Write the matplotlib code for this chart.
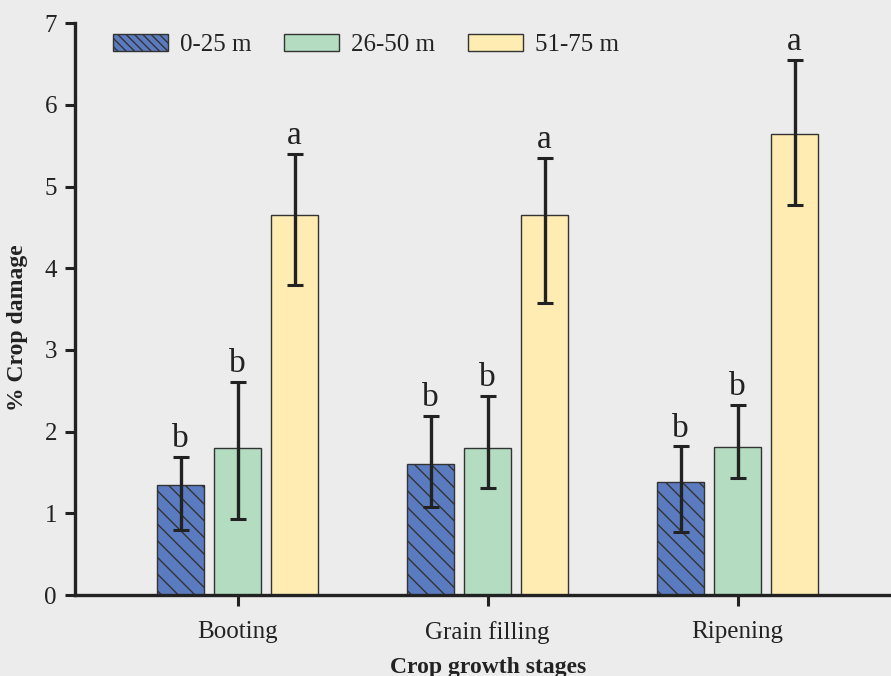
import numpy as np
import matplotlib
matplotlib.use('Agg')
import matplotlib.pyplot as plt
import matplotlib.patches as mpatches

plt.rcParams['font.family'] = ['Liberation Serif', 'DejaVu Serif']
plt.rcParams['hatch.linewidth'] = 1.0

# crop damage (%) by distance band, with lower / upper ends of the error bars
stages = ['Booting', 'Grain filling', 'Ripening']
bands = ['0-25 m', '26-50 m', '51-75 m']
damage_0_25 = [1.35, 1.60, 1.38]
damage_26_50 = [1.80, 1.80, 1.81]
damage_51_75 = [4.65, 4.65, 5.64]
low_0_25 = [0.80, 1.08, 0.77]
low_26_50 = [0.93, 1.31, 1.43]
low_51_75 = [3.79, 3.58, 4.78]
high_0_25 = [1.69, 2.19, 1.82]
high_26_50 = [2.61, 2.44, 2.33]
high_51_75 = [5.40, 5.35, 6.55]
letters_0_25 = ['b', 'b', 'b']
letters_26_50 = ['b', 'b', 'b']
letters_51_75 = ['a', 'a', 'a']

series = [
    (damage_0_25, low_0_25, high_0_25, letters_0_25, '#5b7bc0', '\\\\'),
    (damage_26_50, low_26_50, high_26_50, letters_26_50, '#b3dcc0', ''),
    (damage_51_75, low_51_75, high_51_75, letters_51_75, '#feecb3', ''),
]
legend_hatch = ['\\\\\\\\', '', '']

bg = '#ececec'
fig = plt.figure(figsize=(8.91, 6.76), dpi=100, facecolor=bg)
ax = fig.add_axes([75 / 891, 81 / 676, 816 / 891, 571.7 / 676])
ax.set_facecolor(bg)

x = np.arange(len(stages))
width = 0.19
step = 0.228

handles = []
for i, (vals, lo, hi, lets, color, hatch) in enumerate(series):
    pos = x + (i - 1) * step
    vals = np.array(vals)
    yerr = [vals - np.array(lo), np.array(hi) - vals]
    ax.bar(pos, vals, width, color=color, edgecolor='#333333', linewidth=1.0,
           hatch=hatch, zorder=2)
    ax.errorbar(pos, vals, yerr=yerr, fmt='none', ecolor='#222222',
                elinewidth=2.4, capsize=6, capthick=2.2, zorder=3)
    for px, top, lab in zip(pos, hi, lets):
        ax.annotate(lab, (px, top), xytext=(0, 2), textcoords='offset points',
                    ha='center', va='bottom', fontsize=24, color='#222222')
    handles.append(mpatches.Patch(facecolor=color, edgecolor='#333333',
                                  linewidth=1.0, hatch=legend_hatch[i],
                                  label=bands[i]))

ax.set_xlim(-0.65, 2.614)
ax.set_ylim(0, 7)
ax.set_yticks(range(0, 8))
ax.set_xticks(x)
ax.set_xticklabels(stages)

for s in ['top', 'right']:
    ax.spines[s].set_visible(False)
for s in ['left', 'bottom']:
    ax.spines[s].set_linewidth(2.4)
    ax.spines[s].set_color('#222222')

ax.tick_params(axis='y', length=7, width=2.2, pad=6, labelsize=18,
               colors='#222222')
ax.tick_params(axis='x', length=8, width=2.2, pad=11, labelsize=18,
               colors='#222222')

leg = ax.legend(handles=handles, loc='center left',
                bbox_to_anchor=(0.047, 0.962), ncol=3, frameon=False,
                fontsize=18, handlelength=2.2, handleheight=0.68,
                handletextpad=0.48, columnspacing=1.3, borderpad=0,
                borderaxespad=0)
for t in leg.get_texts():
    t.set_color('#222222')

fig.text(18 / 891, (676 - 328) / 676, '% Crop damage',
         rotation=90, ha='center', va='center', fontsize=17,
         fontweight='bold', color='#222222')
fig.text(488 / 891, (676 - 672.5) / 676, 'Crop growth stages',
         ha='center', va='baseline', fontsize=17, fontweight='bold',
         color='#222222')

fig.savefig('out.png', dpi=100, facecolor=bg)
